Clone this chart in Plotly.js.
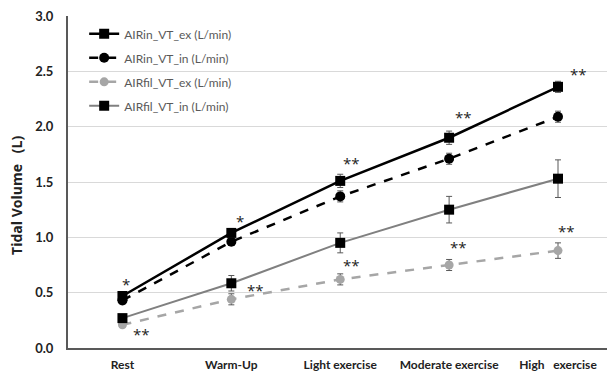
<!DOCTYPE html>
<html><head><meta charset="utf-8">
<script src="https://cdn.plot.ly/plotly-3.0.1.min.js"></script>
<style>html,body{margin:0;padding:0;background:#fff}#chart{width:607px;height:373px}</style>
</head><body><div id="chart"></div>
<script>
const categories = ["Rest", "Warm-Up", "Light exercise", "Moderate exercise", "High   exercise"];
const seriesNames = ["AIRin_VT_ex (L/min)", "AIRin_VT_in (L/min)", "AIRfil_VT_ex (L/min)", "AIRfil_VT_in (L/min)"];
const airinEx = [0.47, 1.04, 1.51, 1.90, 2.36];
const airinExErr = [0.03, 0.04, 0.06, 0.06, 0.05];
const airinIn = [0.43, 0.96, 1.37, 1.71, 2.09];
const airinInErr = [0.03, 0.03, 0.05, 0.05, 0.05];
const airfilEx = [0.21, 0.44, 0.62, 0.75, 0.88];
const airfilExErr = [0.02, 0.05, 0.05, 0.05, 0.07];
const airfilIn = [0.27, 0.585, 0.95, 1.25, 1.53];
const airfilInErr = [0.03, 0.07, 0.09, 0.12, 0.17];
const sigLabels = ["*", "**", "*", "**", "**", "**", "**", "**", "**", "**"];
const sigCats = ["Rest", "Rest", "Warm-Up", "Warm-Up", "Light exercise", "Light exercise", "Moderate exercise", "Moderate exercise", "High   exercise", "High   exercise"];
const sigY = [0.575, 0.13, 1.15, 0.52, 1.67, 0.75, 2.09, 0.91, 2.48, 1.06];
const sigShift = [4, 19, 9, 24, 11, 11, 14, 9, 20, 8];
const yTitle = "Tidal Volume   (L)";

const errStyle = (arr) => ({type: "data", array: arr, visible: true, color: "#595959", thickness: 1, width: 3});

const traces = [
  {x: categories, y: airfilEx, name: seriesNames[2], mode: "lines+markers", legendrank: 3, legendgroup: "c",
   line: {color: "#a6a6a6", width: 2.5, dash: "dash"}, marker: {symbol: "circle", size: 9, color: "#a6a6a6"}, error_y: errStyle(airfilExErr)},
  {x: categories, y: airfilIn, name: seriesNames[3], mode: "lines+markers", legendrank: 4, legendgroup: "d",
   line: {color: "#808080", width: 2}, marker: {symbol: "square", size: 10, color: "#000"}, error_y: errStyle(airfilInErr)},
  {x: categories, y: airinIn, name: seriesNames[1], mode: "lines+markers", legendrank: 2, legendgroup: "b",
   line: {color: "#000", width: 2.5, dash: "dash"}, marker: {symbol: "circle", size: 10, color: "#000"}, error_y: errStyle(airinInErr)},
  {x: categories, y: airinEx, name: seriesNames[0], mode: "lines+markers", legendrank: 1, legendgroup: "a",
   line: {color: "#000", width: 2.5}, marker: {symbol: "square", size: 10, color: "#000"}, error_y: errStyle(airinExErr)}
];

const annotations = sigLabels.map((t, i) => ({
  x: sigCats[i], y: sigY[i], xref: "x", yref: "y", text: t, showarrow: false, xshift: sigShift[i],
  font: {family: "Open Sans, Arial, sans-serif", size: 15, color: "#222"}
}));
annotations.push({
  x: 0, y: 0.458, xref: "paper", yref: "paper", xanchor: "center", yanchor: "middle", xshift: -51,
  text: yTitle, textangle: -90, showarrow: false,
  font: {family: "Open Sans, Arial, sans-serif", size: 14, color: "#222", weight: 700}
});

const layout = {
  width: 607, height: 373,
  margin: {l: 68, r: 0, t: 16, b: 25},
  paper_bgcolor: "#fff", plot_bgcolor: "#fff",
  font: {family: "Lato, Arial, sans-serif", color: "#222"},
  showlegend: true,
  legend: {x: 0.03, y: 0.99, xanchor: "left", yanchor: "top", bgcolor: "rgba(0,0,0,0)",
    font: {size: 12, color: "#595959"}, traceorder: "grouped", tracegroupgap: 5, itemwidth: 30},
  xaxis: {type: "category", range: [-0.5, 4.45], showgrid: false, showline: true, linecolor: "#595959", linewidth: 2,
    ticks: "", tickfont: {size: 12, color: "#222", weight: "bold"}, ticklabelstandoff: 5, zeroline: false},
  yaxis: {range: [0, 3], dtick: 0.5, tickformat: ".1f", showgrid: true, gridcolor: "#d9d9d9", gridwidth: 1,
    showline: true, linecolor: "#595959", linewidth: 2, ticks: "", zeroline: false,
    tickfont: {size: 13, color: "#222", weight: "bold"}, ticklabelstandoff: 10},
  annotations: annotations
};
Plotly.newPlot("chart", traces, layout, {displayModeBar: false, staticPlot: true});
</script></body></html>
